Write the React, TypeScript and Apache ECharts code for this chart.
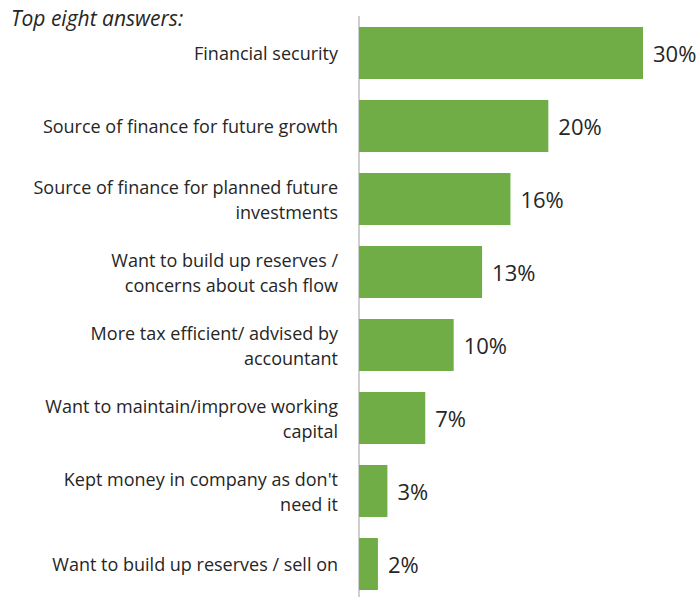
import React, { useEffect, useRef } from "react";
import * as echarts from "echarts";

const categories = [
  "Financial security",
  "Source of finance for future growth",
  "Source of finance for planned future\ninvestments",
  "Want to build up reserves /\nconcerns about cash flow",
  "More tax efficient/ advised by\naccountant",
  "Want to maintain/improve working\ncapital",
  "Kept money in company as don't\nneed it",
  "Want to build up reserves / sell on",
];
const values = [30, 20, 16, 13, 10, 7, 3, 2];
const titleText = "Top eight answers:";

const FONT = "'Open Sans', 'Noto Sans', sans-serif";
const TEXT = "#262626";

export default function App() {
  const ref = useRef<HTMLDivElement>(null);
  useEffect(() => {
    if (!ref.current) return;
    const chart = echarts.init(ref.current, undefined, { renderer: "svg" });
    chart.setOption({
      animation: false,
      backgroundColor: "#ffffff",
      title: {
        text: titleText,
        left: 6,
        top: 2,
        textStyle: {
          fontFamily: FONT,
          fontStyle: "italic",
          fontWeight: "normal",
          fontSize: 21,
          color: TEXT,
        },
      },
      grid: { left: 359, top: 16.5, height: 584, width: 284, containLabel: false },
      xAxis: {
        type: "value",
        min: 0,
        max: 30,
        show: false,
      },
      yAxis: {
        type: "category",
        inverse: true,
        data: categories,
        axisLine: { show: true, lineStyle: { color: "#bfbfbf", width: 1.5 } },
        axisTick: { show: false },
        axisLabel: {
          margin: 21,
          fontFamily: FONT,
          fontSize: 18,
          color: TEXT,
          lineHeight: 25,
          align: "right",
        },
      },
      series: [
        {
          type: "bar",
          data: values,
          barCategoryGap: "29%",
          itemStyle: { color: "#70ad47" },
          label: {
            show: true,
            position: "right",
            distance: 10,
            formatter: "{c}%",
            fontFamily: FONT,
            fontSize: 22,
            color: TEXT,
          },
        },
      ],
    });
    return () => chart.dispose();
  }, []);
  return (
    <div
      ref={ref}
      style={{ position: "fixed", left: 0, top: 0, width: 697, height: 640 }}
    />
  );
}
